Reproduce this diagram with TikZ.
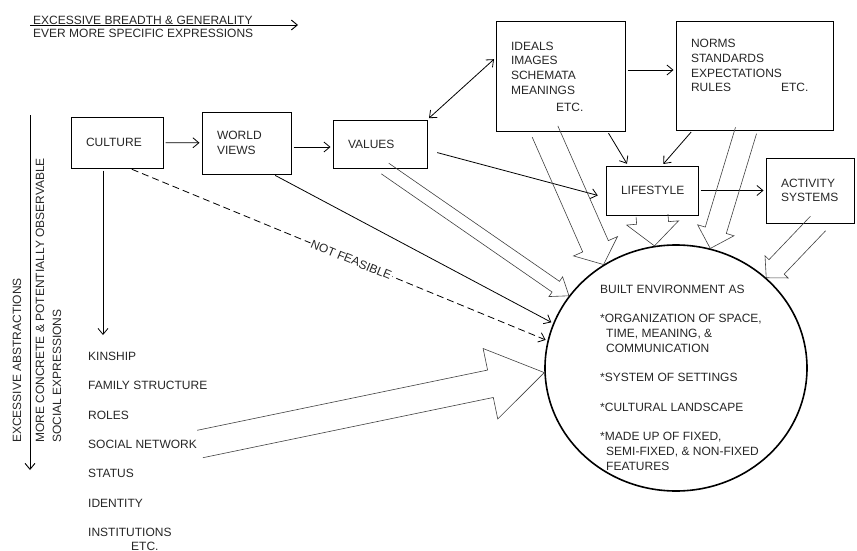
\documentclass[tikz,border=0pt]{standalone}
\usepackage{fontspec}
\setmainfont{Liberation Sans}
\usetikzlibrary{arrows.meta,calc,shapes.geometric}

\newcommand{\fatarrow}[5]{%
	\path (#1) coordinate (fa) (#2) coordinate (fb);
	\path ($(fb)!#5!(fa)$) coordinate (fn);
	\draw[fat] ($(fa)!#3!90:(fb)$) -- ($(fn)!#3!90:(fb)$) -- ($(fn)!#4!90:(fb)$) -- (fb)
		-- ($(fn)!#4!-90:(fb)$) -- ($(fn)!#3!-90:(fb)$) -- ($(fa)!#3!-90:(fb)$);
}

\begin{document}
\begin{tikzpicture}[x=1pt,y=-1pt,
		font=\fontsize{12}{14.7}\selectfont,
		every node/.style={text=black!85},
		>={Straight Barb[length=6pt,width=10pt]},
		box/.style={draw,line width=1pt,inner xsep=15pt,align=left},
		txt/.style={inner sep=0pt,anchor=west},
		fat/.style={line width=0.6pt,draw=black!75},
		link/.style={->,line width=0.8pt,shorten <=2pt,shorten >=2pt}]
		\useasboundingbox (0,0) rectangle (857,551);
		
		% header and side arrows
		\coordinate (hstart) at (30,25);
		\coordinate (hend) at (298,25);
		\coordinate (vtop) at (30,115);
		\coordinate (vbot) at (30,470);
		\coordinate (kin) at (103,337);
		\node[txt] (breadth) at (33,20) {EXCESSIVE BREADTH \& GENERALITY};
		\node[txt] (specific) at (33,33) {EVER MORE SPECIFIC EXPRESSIONS};
		\node[txt,rotate=90] (abstract) at (17,443) {EXCESSIVE ABSTRACTIONS};
		\node[txt,rotate=90] (concrete) at (40,443) {MORE CONCRETE \& POTENTIALLY OBSERVABLE};
		\node[txt,rotate=90] (socialexp) at (57,443) {SOCIAL EXPRESSIONS};
		
		% boxes
		\node[box,text width=62pt,minimum height=51pt] (culture) at (117,142.5) {CULTURE};
		\node[box,text width=59pt,minimum height=62pt] (world) at (246.5,143) {WORLD\\VIEWS};
		\node[box,text width=64pt,minimum height=48pt] (values) at (380,144) {VALUES};
		\node[box,text width=99pt,minimum height=109pt] (ideals) at (560.5,76.5) {IDEALS\\IMAGES\\SCHEMATA\\MEANINGS\\[2pt]\hspace*{45pt}ETC.};
		\node[box,text width=127pt,minimum height=108pt] (norms) at (754.5,76) {NORMS\\STANDARDS\\EXPECTATIONS\\RULES\hspace{50pt}ETC.\\[6pt]\mbox{}};
		\node[box,text width=62pt,minimum height=49pt,align=center] (lifestyle) at (652,190.5) {LIFESTYLE};
		\node[box,text width=58pt,minimum height=65pt] (activity) at (810,190.5) {ACTIVITY\\SYSTEMS};
		
		% built environment
		\node[draw,ellipse,line width=1.6pt,minimum width=262pt,minimum height=246pt,inner sep=0pt] (built) at (676,368) {};
		\node[txt,anchor=north west,align=left] (envtext) at (600,284.7) {BUILT ENVIRONMENT AS\\[14.7pt]
			*ORGANIZATION OF SPACE,\\
			\hspace*{6pt}TIME, MEANING, \&\\
			\hspace*{6pt}COMMUNICATION\\[14.7pt]
			*SYSTEM OF SETTINGS\\[15pt]
			*CULTURAL LANDSCAPE\\[15pt]
			*MADE UP OF FIXED,\\
			\hspace*{6pt}SEMI-FIXED, \& NON-FIXED\\
			\hspace*{6pt}FEATURES};
		
		% social expressions
		\node[txt] (kinship) at (88,356) {KINSHIP};
		\node[txt] (family) at (88,385) {FAMILY STRUCTURE};
		\node[txt] (roles) at (88,415) {ROLES};
		\node[txt] (network) at (88,444) {SOCIAL NETWORK};
		\node[txt] (status) at (88,473) {STATUS};
		\node[txt] (identity) at (88,503) {IDENTITY};
		\node[txt] (institutions) at (88,532) {INSTITUTIONS};
		\node[txt] (etc) at (131,546) {ETC.};
		
		% connectors
		\draw[->,line width=0.9pt] (hstart) -- (hend);
		\draw[->,line width=0.9pt] (vtop) -- (vbot);
		\draw[link] (culture) -- (world);
		\draw[link] ([yshift=-4pt]world.east) -- ([yshift=-3pt]values.west);
		\draw[link,<->] (values.north east) -- (ideals.164);
		\draw[link] ([yshift=6.5pt]ideals.east) -- ([yshift=6pt]norms.west);
		\draw[link] ([xshift=-18pt]ideals.south east) -- ([xshift=-24pt]lifestyle.north);
		\draw[link] ([xshift=17pt]norms.south west) -- ([xshift=10pt]lifestyle.north);
		\draw[link,shorten <=10pt,shorten >=8pt] ([yshift=-6pt]values.east) -- ([yshift=-7pt]lifestyle.west);
		\draw[link] (lifestyle) -- (activity);
		\draw[link] ([xshift=-14pt]culture.south) -- (kin);
		\draw[link] ([xshift=27pt]world.south) -- (built.160);
		\draw[link,dash pattern=on 7pt off 4pt] ([xshift=13pt]culture.south) -- node[sloped,pos=0.53,fill=white,inner sep=1pt] (notfeasible) {NOT FEASIBLE} (built.168);
		
		\fatarrow{[xshift=5pt]values.south}{built.146}{6.5pt}{12pt}{16pt}
		\fatarrow{[xshift=-15.5pt]ideals.south}{built.125}{14pt}{24pt}{20pt}
		\fatarrow{lifestyle.south}{built.100}{16pt}{26pt}{23pt}
		\fatarrow{[xshift=-8.5pt]norms.south}{built.74}{11pt}{19pt}{19pt}
		\fatarrow{[xshift=8pt]activity.south}{built.45}{10.5pt}{16pt}{15pt}
		\fatarrow{[xshift=3pt]network.east}{built.182}{14pt}{36pt}{55pt}
	\end{tikzpicture}
\end{document}
